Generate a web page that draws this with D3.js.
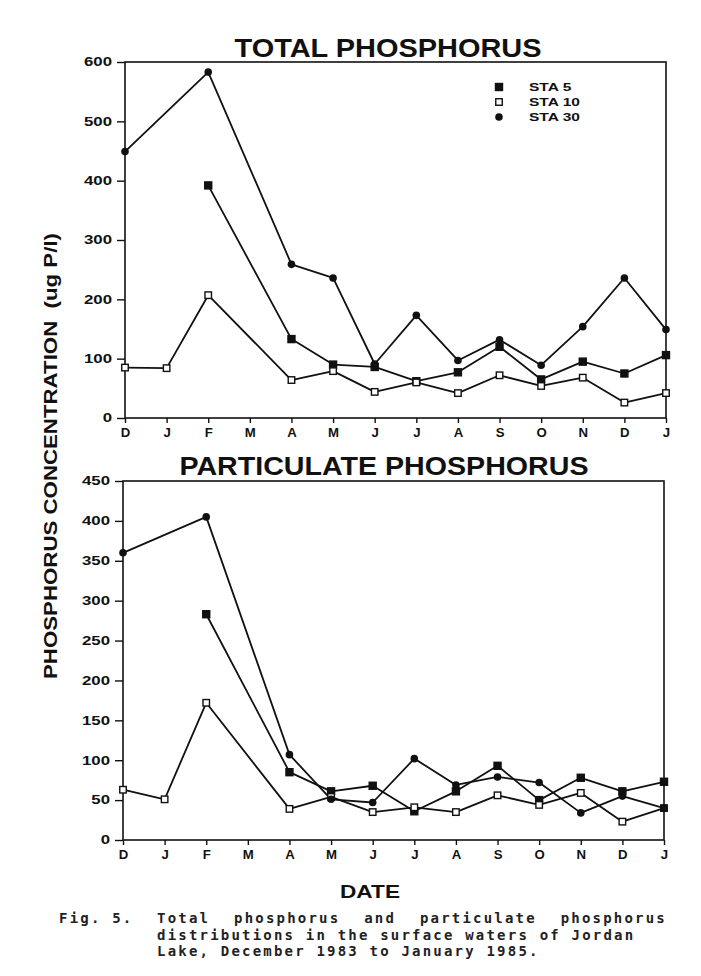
<!DOCTYPE html>
<html>
<head>
<meta charset="utf-8">
<script src="https://cdn.jsdelivr.net/npm/d3@7"></script>
<style>
  body { margin: 0; background: #fff; }
  svg { display: block; }
  .tick text { font-family: Arial, "Liberation Sans", sans-serif; font-weight: bold; }
</style>
</head>
<body>
<svg id="chart" width="701" height="976"></svg>
<script>
// months, Dec 1983 .. Jan 1985
const months = ["D", "J", "F", "M", "A", "M", "J", "J", "A", "S", "O", "N", "D", "J"];

// total phosphorus (ug P/l)
const totalSta5  = [null, null, 392, null, 133, 90, 86, 62, 77, 120, 65, 95, 75, 106];
const totalSta10 = [85, 84, 207, null, 64, 79, 44, 60, 42, 72, 54, 68, 26, 42];
const totalSta30 = [449, null, 583, null, 259, 236, 91, 173, 97, 132, 89, 154, 236, 149];

// particulate phosphorus (ug P/l)
const partSta5  = [null, null, 283, null, 85, 61, 68, 36, 61, 93, 50, 78, 61, 73];
const partSta10 = [63, 51, 172, null, 39, 54, 35, 41, 35, 56, 44, 59, 23, 40];
const partSta30 = [360, null, 405, null, 107, 51, 47, 102, 69, 79, 72, 34, 55, 40];

const totalTicks = [0, 100, 200, 300, 400, 500, 600];
const partTicks = [0, 50, 100, 150, 200, 250, 300, 350, 400, 450];

const legendNames = ["STA 5", "STA 10", "STA 30"];

const svg = d3.select("#chart");
const sans = "Arial, 'Liberation Sans', sans-serif";

// the plotter lettering is wider than Arial, so stretch text sideways
function widen(sel, f) {
    sel.each(function () {
        const w = this.getComputedTextLength();
        d3.select(this).attr("textLength", w * f).attr("lengthAdjust", "spacingAndGlyphs");
    });
}

function drawPanel(opt) {
    const x = d3.scaleLinear().domain([0, months.length - 1]).range([opt.left, opt.right]);
    const y = d3.scaleLinear().domain([0, opt.max]).range([opt.bottom, opt.top]);
    const g = svg.append("g");

    // frame
    g.append("rect")
        .attr("x", opt.left).attr("y", opt.top)
        .attr("width", opt.right - opt.left).attr("height", opt.bottom - opt.top)
        .attr("fill", "none").attr("stroke", "#111").attr("stroke-width", 1.6);

    const xAxis = d3.axisBottom(x).tickValues(d3.range(months.length))
        .tickFormat(i => months[i]).tickSize(5).tickPadding(5);
    g.append("g").attr("transform", `translate(0,${opt.bottom})`).call(xAxis)
        .call(a => a.select(".domain").remove())
        .call(a => a.selectAll("line").attr("stroke", "#111").attr("stroke-width", 1.4))
        .call(a => a.selectAll("text").attr("font-size", 12).attr("fill", "#111"))
        .call(a => widen(a.selectAll("text"), 1.1));

    const yAxis = d3.axisLeft(y).tickValues(opt.ticks).tickSize(8).tickPadding(5);
    g.append("g").attr("transform", `translate(${opt.left},0)`).call(yAxis)
        .call(a => a.select(".domain").remove())
        .call(a => a.selectAll("line").attr("stroke", "#111").attr("stroke-width", 1.4))
        .call(a => a.selectAll("text").attr("font-size", 12).attr("fill", "#111"))
        .call(a => widen(a.selectAll("text"), 1.4));

    // title
    g.append("text")
        .attr("x", opt.titleX).attr("y", opt.titleY)
        .attr("text-anchor", "middle")
        .attr("font-family", sans)
        .attr("font-weight", "bold").attr("font-size", 25.5)
        .attr("fill", "#111")
        .attr("textLength", opt.titleW).attr("lengthAdjust", "spacingAndGlyphs")
        .text(opt.title);

    const series = [
        { vals: opt.sta5, kind: "fsq" },
        { vals: opt.sta10, kind: "osq" },
        { vals: opt.sta30, kind: "dot" }
    ];

    series.forEach(s => {
        // month M has no sample, the line just bridges it
        const pts = s.vals.map((v, i) => [i, v]).filter(p => p[1] != null);
        g.append("path")
            .datum(pts)
            .attr("d", d3.line().x(p => x(p[0])).y(p => y(p[1])))
            .attr("fill", "none").attr("stroke", "#111").attr("stroke-width", 1.8)
            .attr("stroke-linejoin", "round");
    });

    series.forEach(s => {
        const pts = s.vals.map((v, i) => [i, v]).filter(p => p[1] != null);
        drawMarkers(g, pts.map(p => [x(p[0]), y(p[1])]), s.kind);
    });
}

function drawMarkers(g, pts, kind) {
    if (kind == "dot") {
        g.selectAll(null).data(pts).enter().append("circle")
            .attr("cx", p => p[0]).attr("cy", p => p[1]).attr("r", 3.8)
            .attr("fill", "#111");
    } else {
        const s = kind == "fsq" ? 7 : 6.5;
        g.selectAll(null).data(pts).enter().append("rect")
            .attr("x", p => p[0] - s / 2).attr("y", p => p[1] - s / 2)
            .attr("width", s).attr("height", s)
            .attr("fill", kind == "fsq" ? "#111" : "#fff")
            .attr("stroke", "#111").attr("stroke-width", 1.4);
    }
}

drawPanel({
    left: 125, right: 666, top: 62, bottom: 418, max: 600, ticks: totalTicks,
    title: "TOTAL PHOSPHORUS", titleX: 388, titleY: 57, titleW: 307,
    sta5: totalSta5, sta10: totalSta10, sta30: totalSta30
});

drawPanel({
    left: 123, right: 664, top: 481, bottom: 840, max: 450, ticks: partTicks,
    title: "PARTICULATE PHOSPHORUS", titleX: 384, titleY: 475, titleW: 409,
    sta5: partSta5, sta10: partSta10, sta30: partSta30
});

// legend
const legend = svg.append("g");
const kinds = ["fsq", "osq", "dot"];
legendNames.forEach((name, i) => {
    const ly = 87 + i * 15;
    drawMarkers(legend, [[499, ly]], kinds[i]);
    legend.append("text")
        .attr("x", 529).attr("y", ly + 4)
        .attr("font-family", sans)
        .attr("font-weight", "bold").attr("font-size", 11.5)
        .attr("fill", "#111")
        .text(name)
        .call(t => widen(t, 1.35));
});

// axis titles
svg.append("text")
    .attr("transform", "translate(57,456) rotate(-90)")
    .attr("text-anchor", "middle")
    .attr("font-family", sans)
    .attr("font-weight", "bold").attr("font-size", 19)
    .attr("fill", "#111")
    .style("white-space", "pre")
    .attr("textLength", 446).attr("lengthAdjust", "spacingAndGlyphs")
    .text("PHOSPHORUS CONCENTRATION  (ug P/l)");

svg.append("text")
    .attr("x", 370).attr("y", 898)
    .attr("text-anchor", "middle")
    .attr("font-family", sans)
    .attr("font-weight", "bold").attr("font-size", 19)
    .attr("fill", "#111")
    .attr("textLength", 60).attr("lengthAdjust", "spacingAndGlyphs")
    .text("DATE");

// caption, typewriter style
const capFont = "'DejaVu Sans Mono', 'Liberation Mono', monospace";
function capText(x, yy, t) {
    return svg.append("text")
        .attr("x", x).attr("y", yy)
        .attr("font-family", capFont).attr("font-weight", "bold")
        .attr("font-size", 14).attr("letter-spacing", 2.2)
        .attr("fill", "#222")
        .text(t);
}
capText(59, 923, "Fig. 5.");

// first line is justified to the right edge
const firstWords = ["Total", "phosphorus", "and", "particulate", "phosphorus"];
const widths = firstWords.map(w => {
    const t = capText(0, -100, w);
    const wd = t.node().getComputedTextLength();
    t.remove();
    return wd;
});
const gap = (667 - 157 - d3.sum(widths)) / (firstWords.length - 1);
let cx = 157;
firstWords.forEach((w, i) => {
    capText(cx, 923, w);
    cx += widths[i] + gap;
});
capText(157, 940, "distributions in the surface waters of Jordan");
capText(157, 956, "Lake, December 1983 to January 1985.");
</script>
</body>
</html>
